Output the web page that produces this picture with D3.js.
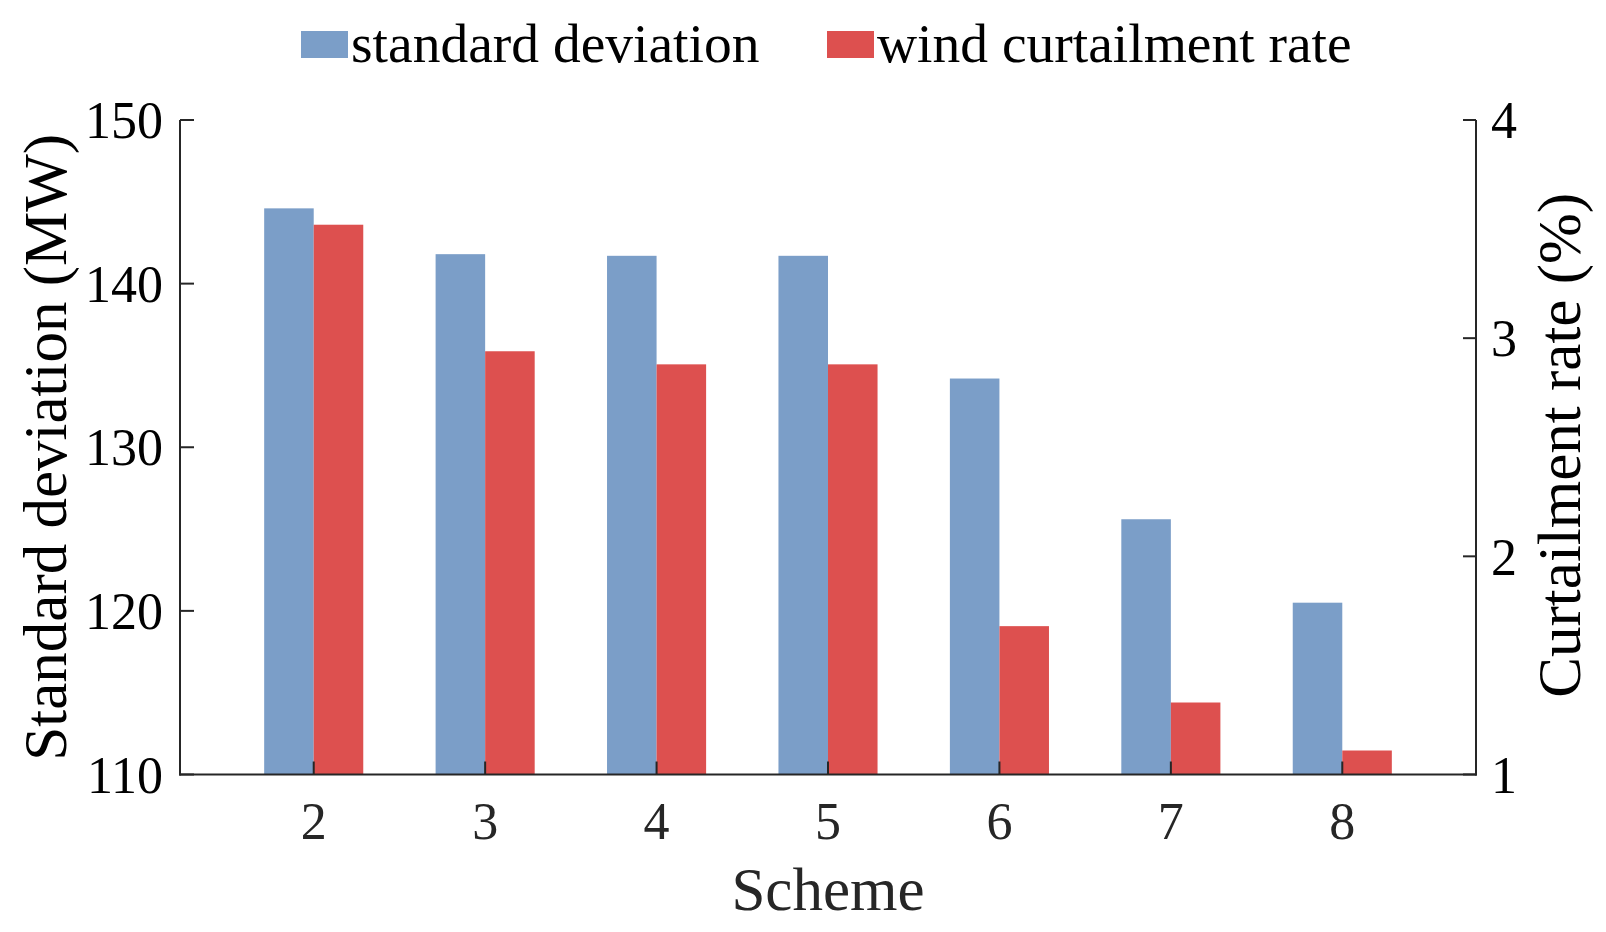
<!DOCTYPE html>
<html>
<head>
<meta charset="utf-8">
<script src="https://cdn.jsdelivr.net/npm/d3@7"></script>
<style>
  html, body { margin: 0; padding: 0; background: #fff; }
  svg { display: block; }
  text { font-family: "Liberation Serif", "Times New Roman", serif; }
</style>
</head>
<body>
<svg id="chart" width="1606" height="932"></svg>
<script>
// ---- data ----
const schemes = [2, 3, 4, 5, 6, 7, 8];
const stdDev = [144.6, 141.8, 141.7, 141.7, 134.2, 125.6, 120.5];      // MW, left axis
const curtailRate = [3.52, 2.94, 2.88, 2.88, 1.68, 1.33, 1.11];        // %, right axis
const leftTicks = [110, 120, 130, 140, 150];
const rightTicks = [1, 2, 3, 4];
const seriesNames = ["standard deviation", "wind curtailment rate"];

// ---- layout ----
const L = 180, R = 1476, T = 120, B = 774.5;
const colors = ["#7B9EC8", "#DD504F"];
const axisColor = "#262626";

const svg = d3.select("#chart");

const x = d3.scaleLinear().domain([1.22, 8.78]).range([L, R]);
const yL = d3.scaleLinear().domain([110, 150]).range([B, T]);
const yR = d3.scaleLinear().domain([1, 4]).range([B, T]);
const barUnits = 0.289;
const bw = x(2 + barUnits) - x(2);

// bars
const g = svg.append("g");
g.selectAll("rect.sd").data(schemes).enter().append("rect")
  .attr("x", (d) => x(d) - bw)
  .attr("y", (d, i) => yL(stdDev[i]))
  .attr("width", bw)
  .attr("height", (d, i) => B - yL(stdDev[i]))
  .attr("fill", colors[0]);
g.selectAll("rect.cr").data(schemes).enter().append("rect")
  .attr("x", (d) => x(d))
  .attr("y", (d, i) => yR(curtailRate[i]))
  .attr("width", bw)
  .attr("height", (d, i) => B - yR(curtailRate[i]))
  .attr("fill", colors[1]);

// axes
const fs = 52;
const ax = svg.append("g").attr("stroke", axisColor).attr("stroke-width", 2).attr("fill", "none");
ax.append("line").attr("x1", L).attr("x2", L).attr("y1", T).attr("y2", B + 1);
ax.append("line").attr("x1", R).attr("x2", R).attr("y1", T).attr("y2", B + 1);
ax.append("line").attr("x1", L - 1).attr("x2", R + 1).attr("y1", B).attr("y2", B);

// bottom axis ticks (inward)
ax.selectAll("line.xt").data(schemes).enter().append("line")
  .attr("x1", (d) => x(d)).attr("x2", (d) => x(d))
  .attr("y1", B).attr("y2", B - 13);
svg.selectAll("text.xt").data(schemes).enter().append("text")
  .attr("x", (d) => x(d)).attr("y", 839)
  .attr("text-anchor", "middle").attr("font-size", fs).attr("fill", axisColor)
  .text((d) => d);

// left ticks
ax.selectAll("line.yl").data(leftTicks).enter().append("line")
  .attr("x1", L).attr("x2", L + 14)
  .attr("y1", (d) => yL(d)).attr("y2", (d) => yL(d));
svg.selectAll("text.yl").data(leftTicks).enter().append("text")
  .attr("x", 163).attr("y", (d) => yL(d)).attr("dy", "0.35em")
  .attr("text-anchor", "end").attr("font-size", fs).attr("fill", "#000")
  .text((d) => d);

// right ticks
ax.selectAll("line.yr").data(rightTicks).enter().append("line")
  .attr("x1", R).attr("x2", R - 13)
  .attr("y1", (d) => yR(d)).attr("y2", (d) => yR(d));
svg.selectAll("text.yr").data(rightTicks).enter().append("text")
  .attr("x", 1491).attr("y", (d) => yR(d)).attr("dy", "0.35em")
  .attr("text-anchor", "start").attr("font-size", fs).attr("fill", "#000")
  .text((d) => d);

// axis titles
const tfs = 61;
svg.append("text")
  .attr("x", (L + R) / 2).attr("y", 910)
  .attr("text-anchor", "middle").attr("font-size", tfs).attr("fill", axisColor)
  .text("Scheme");
svg.append("text")
  .attr("transform", `translate(66,${(T + B) / 2}) rotate(-90)`)
  .attr("text-anchor", "middle").attr("font-size", tfs).attr("fill", "#000")
  .text("Standard deviation (MW)");
svg.append("text")
  .attr("transform", `translate(1580,${(T + B) / 2 - 2}) rotate(-90)`)
  .attr("text-anchor", "middle").attr("font-size", tfs).attr("fill", "#000")
  .text("Curtailment rate (%)");

// legend
const legX = [301, 827];
const lg = svg.append("g");
seriesNames.forEach((name, i) => {
  lg.append("rect").attr("x", legX[i]).attr("y", 31).attr("width", 47).attr("height", 27).attr("fill", colors[i]);
  lg.append("text").attr("x", legX[i] + 50).attr("y", 62)
    .attr("font-size", 55.5).attr("fill", "#000").text(name);
});
</script>
</body>
</html>
